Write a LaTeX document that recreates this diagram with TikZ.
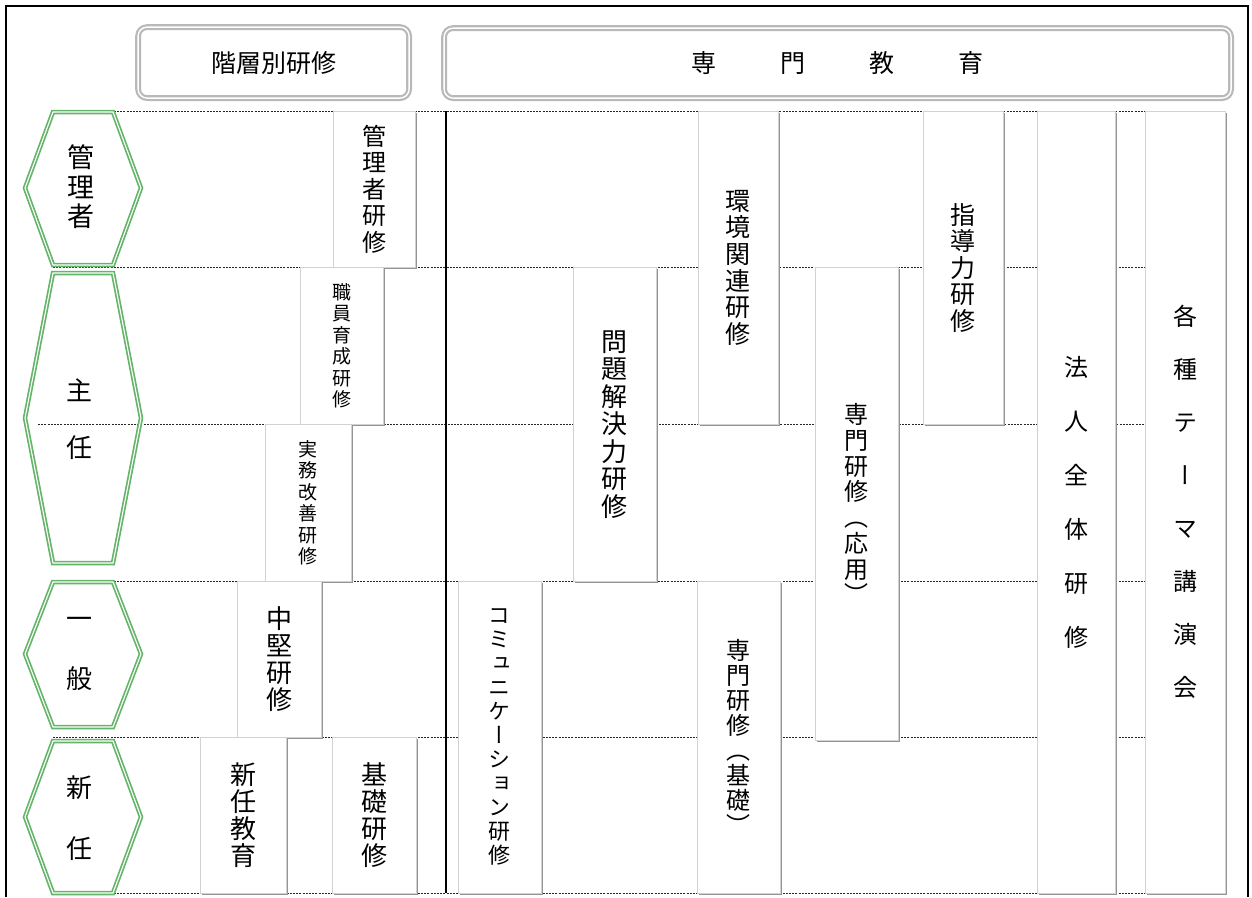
\documentclass[tikz,border=0pt]{standalone}
\usepackage{fontspec}
\usepackage{tikz}
\usetikzlibrary{shadows}
\newfontfamily\jp[RawFeature=+vert]{Noto Sans CJK JP}
\definecolor{hexgreen}{RGB}{100,180,105}

\begin{document}
\begin{tikzpicture}[
  x=1pt, y=-1pt,
  course/.style={draw=gray!35, fill=white, inner sep=0pt, anchor=north west, align=center,
    drop shadow={shadow xshift=2.2pt, shadow yshift=-2.2pt, fill=black!42, opacity=1}},
  headbox/.style={draw=gray!55, double=white, line width=2.2pt, double distance=1.4pt,
    rounded corners=9pt, anchor=north west, inner sep=0pt, font=\jp\fontsize{25}{28}\selectfont},
  hexa/.style={draw=hexgreen, double=white, line width=1.7pt, double distance=1.1pt, line join=miter},
  rank/.style={align=center, inner sep=0pt},
  rowline/.style={black!85, line width=1pt, dash pattern=on 2pt off 1.2pt}
]
\useasboundingbox (0,0) rectangle (1252,897);

% frame
\draw[line width=1.2pt] (6,897) -- (6,6) -- (1248,6) -- (1248,897);

% headers
\node (kaiso) [headbox, minimum width=271pt, minimum height=71pt] at (137,26) {階層別研修};
\node (senmon) [headbox, minimum width=787pt, minimum height=70pt] at (443,27)
  {専\hspace{64pt}門\hspace{64pt}教\hspace{64pt}育};

% row lines
\foreach \y in {111,267,581,737,893}
  \draw[rowline] (53,\y) -- (1225,\y);
\draw[rowline] (38,424) -- (1225,424);

% 階層別研修
\node (kanri)   [course, minimum width=82pt, minimum height=156pt, font=\jp\fontsize{24}{26.5}\selectfont] at (333,111) {管\\理\\者\\研\\修};
\node (shokuin) [course, minimum width=83pt, minimum height=157pt, font=\jp\fontsize{19}{21.5}\selectfont] at (300,267) {職\\員\\育\\成\\研\\修};
\node (jitsumu) [course, minimum width=86pt, minimum height=157pt, font=\jp\fontsize{19}{21.5}\selectfont] at (265,424) {実\\務\\改\\善\\研\\修};
\node (chuken)  [course, minimum width=84pt, minimum height=156pt, font=\jp\fontsize{26}{27}\selectfont] at (237,581) {中\\堅\\研\\修};
\node (shinnin) [course, minimum width=86pt, minimum height=156pt, font=\jp\fontsize{26}{27}\selectfont] at (200,737) {新\\任\\教\\育};
\node (kiso)    [course, minimum width=84pt, minimum height=156pt, font=\jp\fontsize{26}{27}\selectfont] at (332,737) {基\\礎\\研\\修};

% 専門教育
\node (comm)    [course, minimum width=83pt, minimum height=312pt, font=\jp\fontsize{22}{24}\selectfont] at (458,581) {コ\\ミ\\ュ\\ニ\\ケ\\ー\\シ\\ョ\\ン\\研\\修};
\node (mondai)  [course, minimum width=83pt, minimum height=314pt, font=\jp\fontsize{26}{27.5}\selectfont] at (573,267) {問\\題\\解\\決\\力\\研\\修};
\node (kankyo)  [course, minimum width=80pt, minimum height=313pt, font=\jp\fontsize{25}{26.6}\selectfont] at (698,111) {環\\境\\関\\連\\研\\修};
\node (oyo)     [course, minimum width=83pt, minimum height=473pt, font=\jp\fontsize{24}{25.7}\selectfont] at (815,267) {専\\門\\研\\修\\（\\応\\用\\）};
\node (shido)   [course, minimum width=80pt, minimum height=313pt, font=\jp\fontsize{25}{26.5}\selectfont] at (923,111) {指\\導\\力\\研\\修};
\node (kisosen) [course, minimum width=83pt, minimum height=312pt, font=\jp\fontsize{24}{25}\selectfont] at (697,581) {専\\門\\研\\修\\（\\基\\礎\\）};
\node (hojin)   [course, minimum width=78pt, minimum height=782pt, font=\jp\fontsize{24}{54}\selectfont] at (1037,111) {法\\人\\全\\体\\研\\修};
\node (kakushu) [course, minimum width=80pt, minimum height=782pt, font=\jp\fontsize{24}{53}\selectfont] at (1145,111) {各\\種\\テ\\ー\\マ\\講\\演\\会};

% divider
\draw[line width=1.2pt] (446,111) -- (446,893);

% ranks
\draw[hexa] (25,188) -- (53,112) -- (113,112) -- (141,188) -- (113,265) -- (53,265) -- cycle;
\draw[hexa] (25,418) -- (53,273) -- (113,273) -- (141,418) -- (113,563) -- (53,563) -- cycle;
\draw[hexa] (25,654) -- (53,582) -- (113,582) -- (141,654) -- (113,727) -- (53,727) -- cycle;
\draw[hexa] (25,817) -- (53,741) -- (113,741) -- (141,817) -- (113,893) -- (53,893) -- cycle;

\node (r1) [rank, font=\jp\fontsize{27}{29.5}\selectfont] at (81,187) {管\\理\\者};
\node (r2) [rank, font=\jp\fontsize{26}{57}\selectfont] at (79,419) {主\\任};
\node (r3) [rank, font=\jp\fontsize{26}{60}\selectfont] at (79,654) {一\\般};
\node (r4) [rank, font=\jp\fontsize{26}{61}\selectfont] at (79,818) {新\\任};

\end{tikzpicture}
\end{document}
